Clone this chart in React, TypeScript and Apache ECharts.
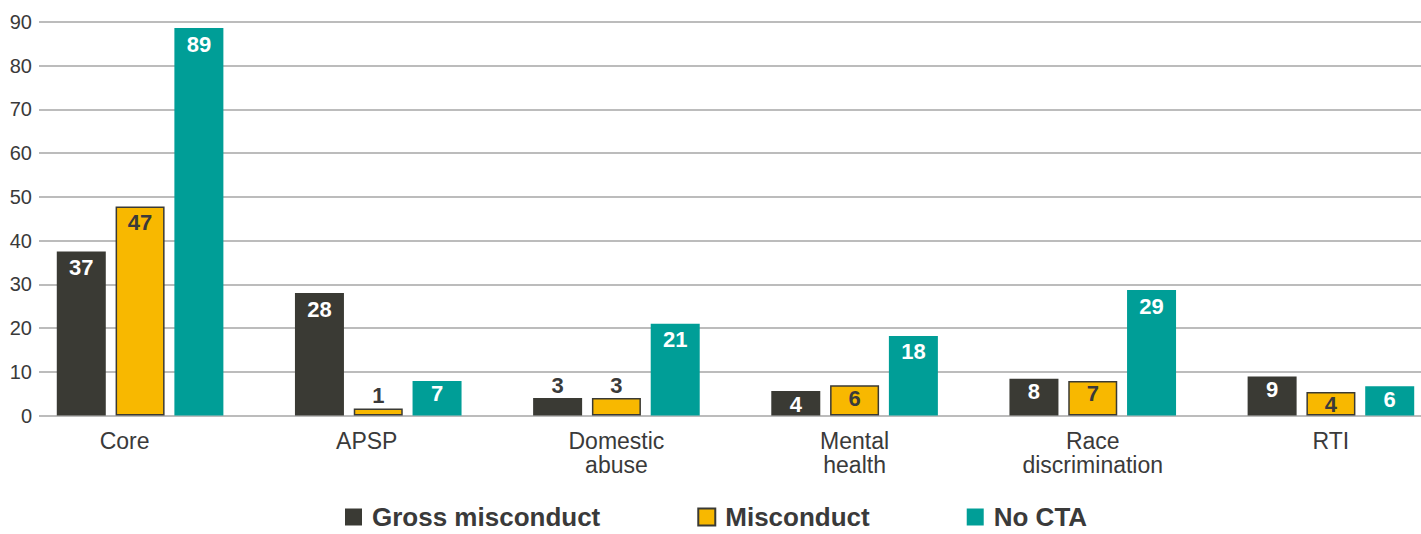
import React, { useEffect, useRef } from "react";
import * as echarts from "echarts";

const categories = ["Core", "APSP", "Domestic\nabuse", "Mental\nhealth", "Race\ndiscrimination", "RTI"];
const grossHeights = [37.5, 28.0, 4.0, 5.6, 8.4, 8.9];
const misconductHeights = [47.8, 1.6, 4.0, 6.9, 7.9, 5.4];
const noCtaHeights = [88.6, 7.9, 21.0, 18.2, 28.7, 6.7];
const grossLabels = [37, 28, 3, 4, 8, 9];
const misconductLabels = [47, 1, 3, 6, 7, 4];
const noCtaLabels = [89, 7, 21, 18, 29, 6];
const seriesNames = ["Gross misconduct", "Misconduct", "No CTA"];
const yMax = 90;
const yInterval = 10;

const DARK = "#3a3a34";
const YELLOW = "#f8b800";
const TEAL = "#009e97";
const TEXT = "#3a3a3a";
const FONT = "'Liberation Sans', Arial, Helvetica, sans-serif";

const CHART_W = 1460;

function makeData(heights: number[], labels: number[], insideColor: string) {
  return heights.map((h, i) => {
    const small = h < 4.5;
    return {
      value: h,
      label: {
        show: true,
        formatter: String(labels[i]),
        position: small ? "top" : "insideTop",
        distance: small ? 2 : h < 10 ? 2 : 5,
        color: small ? TEXT : insideColor,
        fontSize: 22,
        fontWeight: "bold",
        fontFamily: FONT,
      },
    };
  });
}

export default function App() {
  const ref = useRef<HTMLDivElement>(null);
  useEffect(() => {
    if (!ref.current) return;
    const chart = echarts.init(ref.current, null, { renderer: "svg" });
    chart.setOption({
      animation: false,
      grid: [
        { left: 39, right: CHART_W - 1421, top: 22, bottom: 118.5, containLabel: false },
        { left: 21, right: CHART_W - 1450, top: 22, bottom: 118.5, containLabel: false },
      ],
      legend: {
        data: seriesNames,
        left: 345,
        top: 504,
        padding: 0,
        itemWidth: 17,
        itemHeight: 17,
        itemGap: 97,
        icon: "rect",
        textStyle: { fontSize: 26, lineHeight: 25, fontWeight: "bold", color: TEXT, fontFamily: FONT, padding: [0, 0, 0, 5] },
      },
      xAxis: [
        { type: "category", gridIndex: 0, data: categories, show: false },
        {
          type: "category",
          gridIndex: 1,
          data: categories,
          axisLine: { show: false },
          axisTick: { show: false },
          axisLabel: {
            interval: 0,
            margin: 13,
            fontSize: 23,
            lineHeight: 24,
            color: TEXT,
            fontFamily: FONT,
            formatter: (v: string) => {
              if (v === "Core") return "{core|Core}";
              if (v === "APSP") return "{apsp|APSP}";
              return v;
            },
            rich: {
              core: { fontSize: 23, color: TEXT, fontFamily: FONT, padding: [0, 31, 0, 0], lineHeight: 24 },
              apsp: { fontSize: 23, color: TEXT, fontFamily: FONT, padding: [0, 23, 0, 0], lineHeight: 24 },
            },
          },
        },
      ],
      yAxis: [
        {
          type: "value",
          gridIndex: 0,
          min: 0,
          max: yMax,
          interval: yInterval,
          axisLine: { show: false },
          axisTick: { show: false },
          axisLabel: { fontSize: 20, color: TEXT, fontFamily: FONT, margin: 7 },
          splitLine: { lineStyle: { color: "#a6a6a6", width: 1.5 } },
        },
        { type: "value", gridIndex: 1, min: 0, max: yMax, interval: yInterval, show: false, splitLine: { show: false } },
      ],
      series: [
        {
          name: seriesNames[0],
          type: "bar",
          xAxisIndex: 1,
          yAxisIndex: 1,
          barWidth: 49,
          barGap: "20%",
          itemStyle: { color: DARK },
          data: makeData(grossHeights, grossLabels, "#ffffff"),
        },
        {
          name: seriesNames[1],
          type: "bar",
          xAxisIndex: 1,
          yAxisIndex: 1,
          barWidth: 49,
          barGap: "20%",
          itemStyle: { color: YELLOW, borderColor: DARK, borderWidth: 1.5 },
          data: makeData(misconductHeights, misconductLabels, TEXT),
        },
        {
          name: seriesNames[2],
          type: "bar",
          xAxisIndex: 1,
          yAxisIndex: 1,
          barWidth: 49,
          barGap: "20%",
          itemStyle: { color: TEAL },
          data: makeData(noCtaHeights, noCtaLabels, "#ffffff"),
        },
      ],
    });
    return () => chart.dispose();
  }, []);
  return (
    <div style={{ position: "absolute", left: 0, top: 0, width: 1421, height: 534, overflow: "hidden" }}>
      <div ref={ref} style={{ width: CHART_W, height: 534 }} />
    </div>
  );
}
